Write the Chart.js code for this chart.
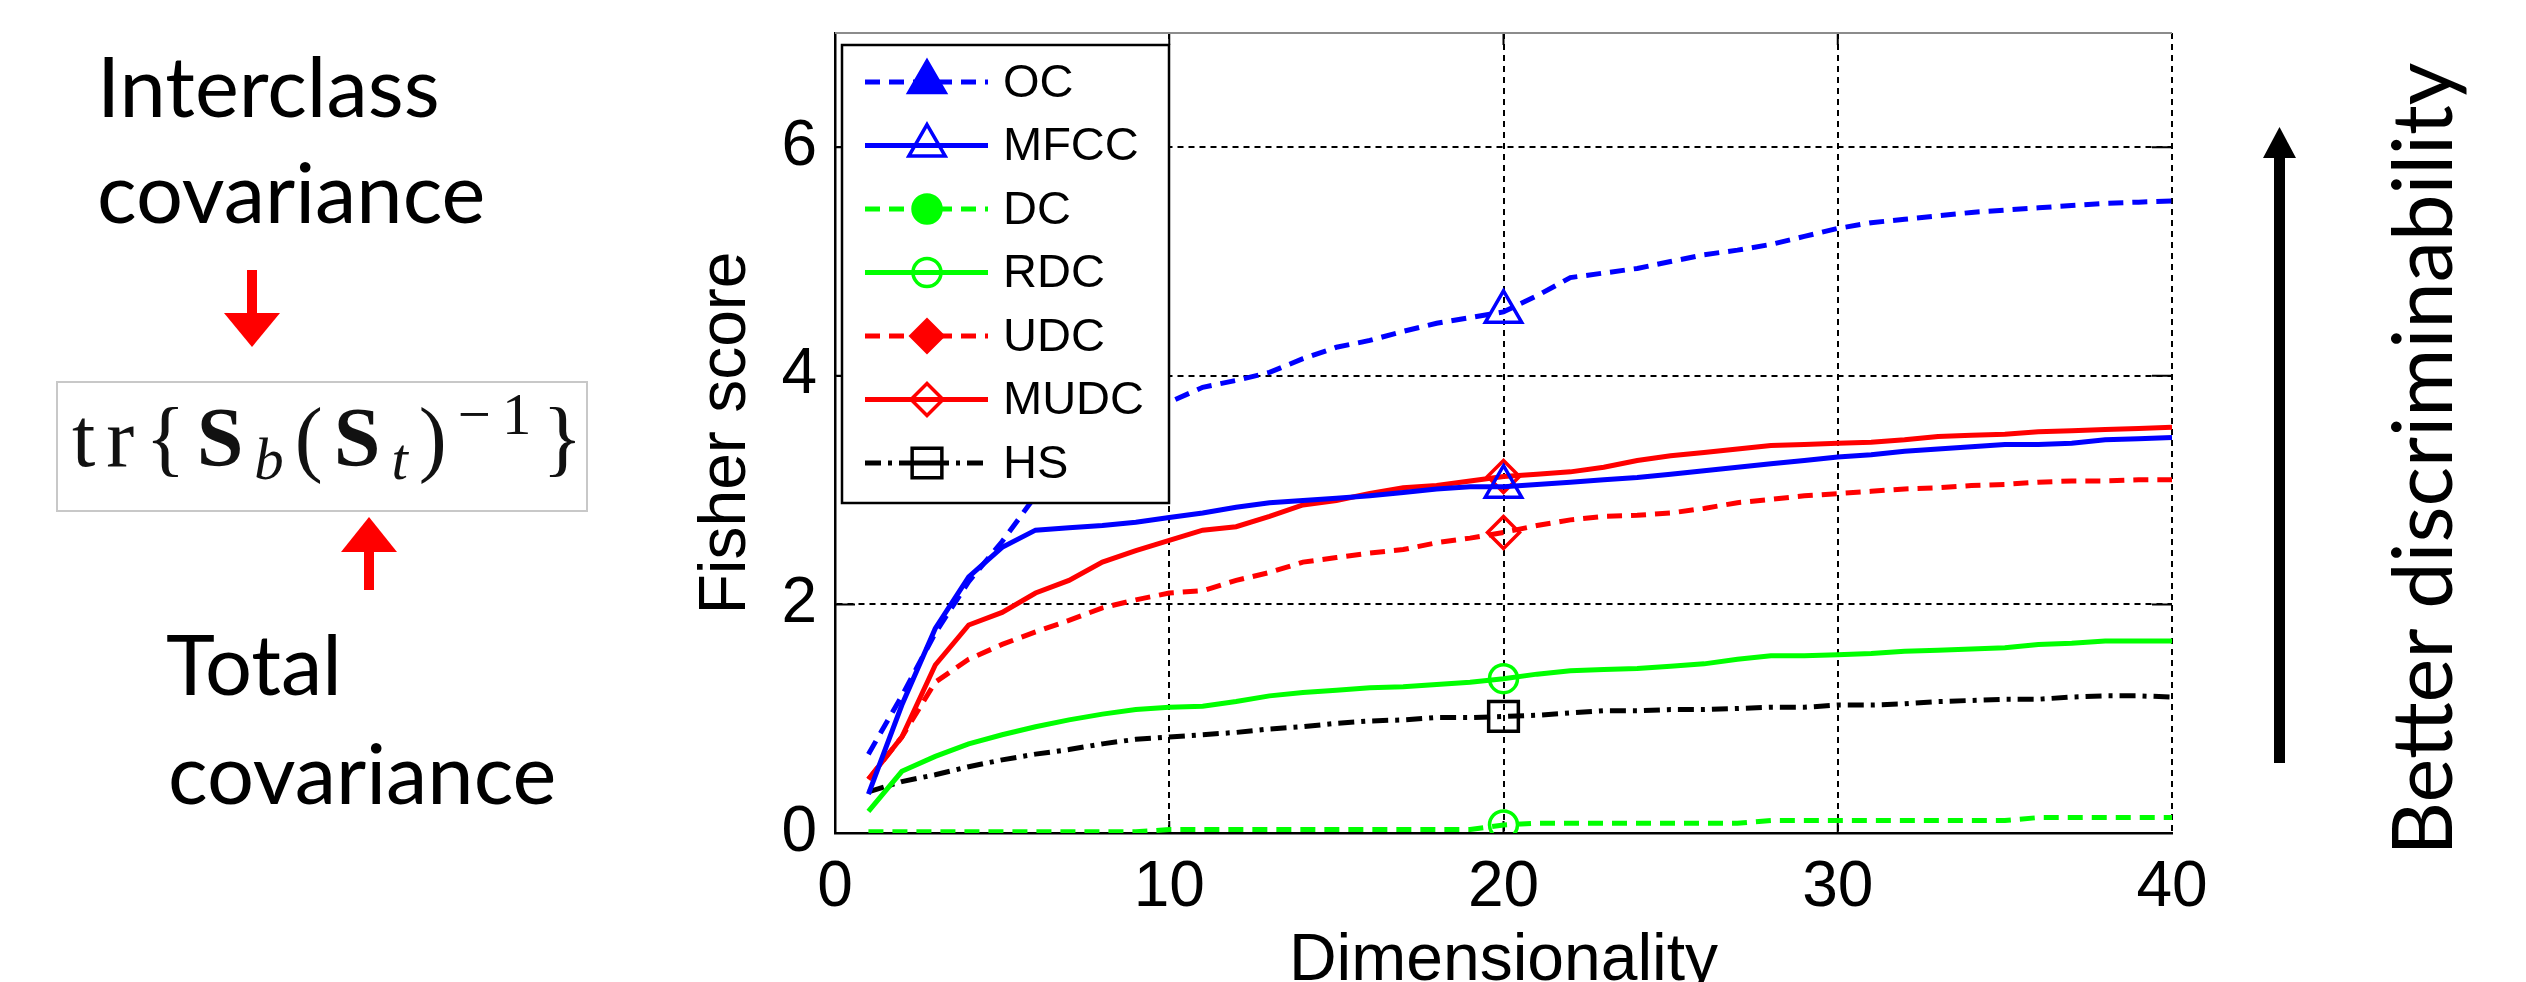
<!DOCTYPE html>
<html>
<head>
<meta charset="utf-8">
<title>Fisher score vs dimensionality</title>
<script src="https://cdn.jsdelivr.net/npm/chart.js@4.4.1/dist/chart.umd.min.js"></script>
<style>
	html, body { margin: 0; padding: 0; background: #fff; }
	body { position: relative; width: 2526px; height: 982px; overflow: hidden; }
	#chartWrap { position: absolute; left: 0; top: 0; width: 2526px; height: 1005px; }
	.note { position: absolute; font-family: Lato, 'Open Sans', sans-serif; font-size: 83px; line-height: 1; color: #000; white-space: nowrap; }
	.rot { transform: translate(-50%, -50%) rotate(-90deg); }
	.formulaBox { position: absolute; left: 56px; top: 381px; width: 532px; height: 131px; box-sizing: border-box; border: 2px solid #c8c8c8; }
	.formula { position: absolute; left: 72px; top: 396px; font-family: 'Liberation Serif', 'DejaVu Serif', serif; font-size: 84px; line-height: 1; letter-spacing: 11px; color: #111; white-space: nowrap; }
	.formula .bf { font-weight: bold; }
	.formula .sub { font-size: 0.7em; font-style: italic; position: relative; top: 0.22em; }
	.formula .sup { font-size: 0.7em; position: relative; top: -0.55em; }
	svg.arrows { position: absolute; left: 0; top: 0; pointer-events: none; }
</style>
</head>
<body>
<div id="chartWrap"><canvas id="fisherChart" width="2526" height="1005"></canvas></div>

<div class="note" style="left:97px; top:44px;">Interclass</div>
<div class="note" style="left:97px; top:150px;">covariance</div>
<div class="formulaBox"></div>
<div class="formula">tr{<span class="bf">S</span><span class="sub">b</span>(<span class="bf">S</span><span class="sub">t</span>)<span class="sup">&minus;1</span>}</div>
<div class="note" style="left:166px; top:622px;">Total</div>
<div class="note" style="left:168px; top:731px;">covariance</div>
<div class="note rot" style="left:2420px; top:459px;">Better discriminability</div>

<svg class="arrows" width="2526" height="982">
	<!-- red arrows pointing at the formula -->
	<rect x="247" y="270" width="10" height="46" fill="#ff0000"/>
	<polygon points="224,313 280,313 252,347" fill="#ff0000"/>
	<rect x="364" y="549" width="10" height="41" fill="#ff0000"/>
	<polygon points="341,552 397,552 369,517" fill="#ff0000"/>
	<!-- black arrow on the right -->
	<rect x="2274" y="155" width="11" height="608" fill="#000"/>
	<polygon points="2263,158 2296,158 2279.5,127" fill="#000"/>
</svg>

<script>
// feature dimensionality (x axis)
const dims = [1, 2, 3, 4, 5, 6, 7, 8, 9, 10, 11, 12, 13, 14, 15, 16, 17, 18, 19, 20,
	21, 22, 23, 24, 25, 26, 27, 28, 29, 30, 31, 32, 33, 34, 35, 36, 37, 38, 39, 40];

// Fisher score per method
const ocScores = [0.69, 1.20, 1.75, 2.20, 2.55, 2.95, 3.25, 3.47, 3.63, 3.77,
	3.90, 3.96, 4.03, 4.15, 4.25, 4.31, 4.39, 4.46, 4.51, 4.56,
	4.70, 4.86, 4.90, 4.94, 5.00, 5.06, 5.10, 5.15, 5.22, 5.29,
	5.34, 5.37, 5.40, 5.43, 5.45, 5.47, 5.49, 5.51, 5.52, 5.53];
const mfccScores = [0.34, 1.12, 1.79, 2.24, 2.50, 2.65, 2.67, 2.69, 2.72, 2.76,
	2.80, 2.85, 2.89, 2.91, 2.93, 2.95, 2.98, 3.01, 3.03, 3.03,
	3.05, 3.07, 3.09, 3.11, 3.14, 3.17, 3.20, 3.23, 3.26, 3.29,
	3.31, 3.34, 3.36, 3.38, 3.40, 3.40, 3.41, 3.44, 3.45, 3.46];
const dcScores = [0.01, 0.01, 0.01, 0.01, 0.01, 0.01, 0.01, 0.01, 0.01, 0.03,
	0.03, 0.03, 0.03, 0.03, 0.03, 0.03, 0.03, 0.03, 0.03, 0.07,
	0.085, 0.085, 0.085, 0.085, 0.085, 0.085, 0.085, 0.11, 0.11, 0.11,
	0.11, 0.11, 0.11, 0.11, 0.11, 0.135, 0.135, 0.135, 0.135, 0.135];
const rdcScores = [0.19, 0.54, 0.67, 0.78, 0.86, 0.93, 0.99, 1.04, 1.08, 1.10,
	1.11, 1.15, 1.20, 1.23, 1.25, 1.27, 1.28, 1.30, 1.32, 1.35,
	1.39, 1.42, 1.43, 1.44, 1.46, 1.48, 1.52, 1.55, 1.55, 1.56,
	1.57, 1.59, 1.60, 1.61, 1.62, 1.65, 1.66, 1.68, 1.68, 1.68];
const udcScores = [0.47, 0.84, 1.32, 1.52, 1.65, 1.76, 1.86, 1.97, 2.04, 2.10,
	2.12, 2.21, 2.28, 2.37, 2.41, 2.45, 2.48, 2.54, 2.58, 2.63,
	2.69, 2.74, 2.77, 2.78, 2.80, 2.84, 2.89, 2.92, 2.95, 2.97,
	2.99, 3.01, 3.02, 3.04, 3.05, 3.07, 3.08, 3.08, 3.09, 3.09];
const mudcScores = [0.47, 0.84, 1.47, 1.82, 1.93, 2.10, 2.21, 2.37, 2.47, 2.56,
	2.65, 2.68, 2.77, 2.87, 2.91, 2.97, 3.02, 3.04, 3.08, 3.12,
	3.14, 3.16, 3.20, 3.26, 3.30, 3.33, 3.36, 3.39, 3.40, 3.41,
	3.42, 3.44, 3.47, 3.48, 3.49, 3.51, 3.52, 3.53, 3.54, 3.55];
const hsScores = [0.36, 0.45, 0.51, 0.58, 0.64, 0.69, 0.73, 0.78, 0.82, 0.84,
	0.86, 0.88, 0.91, 0.93, 0.96, 0.98, 0.99, 1.01, 1.01, 1.02,
	1.03, 1.05, 1.07, 1.07, 1.08, 1.08, 1.09, 1.10, 1.10, 1.12,
	1.12, 1.13, 1.15, 1.16, 1.17, 1.17, 1.19, 1.20, 1.20, 1.19];

const seriesLabels = ['OC', 'MFCC', 'DC', 'RDC', 'UDC', 'MUDC', 'HS'];
const xTickValues = [0, 10, 20, 30, 40];
const yTickValues = [0, 2, 4, 6];
const markerAt = 20; // markers are only drawn at this dimensionality

// matlab-like line styles
const styles = {
	OC:   { color: '#0000ff', dash: [15, 9], marker: 'triangle', radius: 21, legendFill: true },
	MFCC: { color: '#0000ff', dash: [], marker: 'triangle', radius: 21, legendFill: false },
	DC:   { color: '#00ff00', dash: [15, 9], marker: 'circle', radius: 14, legendFill: true },
	RDC:  { color: '#00ff00', dash: [], marker: 'circle', radius: 14, legendFill: false },
	UDC:  { color: '#ff0000', dash: [15, 9], marker: 'rectRot', radius: 16, legendFill: true },
	MUDC: { color: '#ff0000', dash: [], marker: 'rectRot', radius: 16, legendFill: false },
	HS:   { color: '#000000', dash: [16, 7, 4, 7], marker: 'rect', radius: 21, legendFill: false }
};

const seriesValues = [ocScores, mfccScores, dcScores, rdcScores, udcScores, mudcScores, hsScores];

const datasets = seriesLabels.map((name, i) => {
	const st = styles[name];
	return {
		label: name,
		data: dims.map((d, j) => ({ x: d, y: seriesValues[i][j] })),
		borderColor: st.color,
		borderWidth: 5,
		borderDash: st.dash,
		pointStyle: st.marker,
		markerRadius: st.radius,
		legendFill: st.legendFill,
		pointRadius: c => (dims[c.dataIndex] === markerAt ? st.radius : 0),
		pointBorderColor: st.color,
		pointBackgroundColor: 'rgba(0,0,0,0)',
		pointBorderWidth: 3.5,
		fill: false,
		tension: 0
	};
});

const axisFont = { family: "'Liberation Sans', Arial, sans-serif", size: 64 };
const titleFont = { family: "'Liberation Sans', Arial, sans-serif", size: 66 };

// inward ticks and the top edge of the axes box
const axesBox = {
	id: 'axesBox',
	beforeDatasetsDraw(chart) {
		const { ctx, chartArea: a, scales: { x, y } } = chart;
		ctx.save();
		ctx.setLineDash([]);
		ctx.strokeStyle = '#000';
		ctx.lineWidth = 2;
		ctx.beginPath();
		yTickValues.forEach(v => {
			if (v <= 0) return;
			const py = y.getPixelForValue(v);
			ctx.moveTo(a.left, py); ctx.lineTo(a.left + 20, py);
			ctx.moveTo(a.right, py); ctx.lineTo(a.right - 20, py);
		});
		xTickValues.forEach(v => {
			if (v <= 0 || v >= 40) return;
			const px = x.getPixelForValue(v);
			ctx.moveTo(px, a.bottom); ctx.lineTo(px, a.bottom - 12);
			ctx.moveTo(px, a.top); ctx.lineTo(px, a.top + 12);
		});
		ctx.stroke();
		ctx.strokeStyle = '#8c8c8c';
		ctx.beginPath();
		ctx.moveTo(a.left, a.top); ctx.lineTo(a.right, a.top);
		ctx.stroke();
		ctx.restore();
	}
};

// boxed legend with line samples, drawn over the data like matlab does
const boxedLegend = {
	id: 'boxedLegend',
	afterDatasetsDraw(chart) {
		const { ctx, chartArea: a } = chart;
		const left = a.left + 7, top = a.top + 12, width = 327, height = 458;
		ctx.save();
		ctx.setLineDash([]);
		ctx.fillStyle = '#fff';
		ctx.fillRect(left, top, width, height);
		ctx.lineWidth = 2.5;
		ctx.strokeStyle = '#000';
		ctx.strokeRect(left, top, width, height);
		ctx.font = "47px 'Liberation Sans', Arial, sans-serif";
		ctx.textBaseline = 'middle';
		chart.data.datasets.forEach((ds, i) => {
			const rowY = top + 37 + i * 63.5;
			ctx.strokeStyle = ds.borderColor;
			ctx.lineWidth = ds.borderWidth;
			ctx.setLineDash(ds.borderDash);
			ctx.beginPath();
			ctx.moveTo(left + 23, rowY);
			ctx.lineTo(left + 146, rowY);
			ctx.stroke();
			ctx.setLineDash([]);
			ctx.fillStyle = ds.legendFill ? ds.borderColor : '#fff';
			ctx.strokeStyle = ds.pointBorderColor;
			ctx.lineWidth = ds.pointBorderWidth;
			Chart.helpers.drawPoint(ctx, {
				pointStyle: ds.pointStyle, radius: ds.markerRadius, rotation: 0, borderWidth: ds.pointBorderWidth
			}, left + 85, rowY);
			if (!ds.legendFill) {
				// the line runs through the hollow marker
				ctx.strokeStyle = ds.borderColor;
				ctx.lineWidth = ds.borderWidth;
				ctx.beginPath();
				ctx.moveTo(left + 70, rowY);
				ctx.lineTo(left + 100, rowY);
				ctx.stroke();
			}
			ctx.fillStyle = '#000';
			ctx.fillText(ds.label, left + 161, rowY + 2);
		});
		ctx.restore();
	}
};

const fisherChart = new Chart(document.getElementById('fisherChart').getContext('2d'), {
	type: 'line',
	data: { datasets: datasets },
	options: {
		responsive: false,
		devicePixelRatio: 1,
		animation: false,
		events: [],
		layout: { padding: { left: 683, top: 33, right: 354, bottom: 0 } },
		plugins: {
			legend: { display: false },
			tooltip: { enabled: false }
		},
		scales: {
			x: {
				type: 'linear',
				min: 0,
				max: 40,
				afterBuildTicks: s => { s.ticks = xTickValues.map(v => ({ value: v })); },
				afterFit: s => { s.height = 172; s.paddingLeft = 0; s.paddingRight = 0; },
				ticks: { font: axisFont, color: '#000', padding: 17, maxRotation: 0 },
				grid: { color: '#000', lineWidth: 2, drawTicks: false },
				border: { display: true, color: '#000', width: 2.5, dash: [6, 5] },
				title: { display: true, text: 'Dimensionality', font: titleFont, color: '#000', padding: { top: 0, bottom: 4 } }
			},
			y: {
				min: 0,
				max: 7,
				afterBuildTicks: s => { s.ticks = yTickValues.map(v => ({ value: v })); },
				afterFit: s => { s.width = 152; s.paddingTop = 0; s.paddingBottom = 0; },
				ticks: { font: axisFont, color: '#000', padding: 18 },
				grid: { color: '#000', lineWidth: 2, drawTicks: false },
				border: { display: true, color: '#000', width: 2.5, dash: [6, 5] },
				title: { display: true, text: 'Fisher score', font: titleFont, color: '#000', padding: { top: 4, bottom: 0 } }
			}
		}
	},
	plugins: [axesBox, boxedLegend]
});
</script>
</body>
</html>
